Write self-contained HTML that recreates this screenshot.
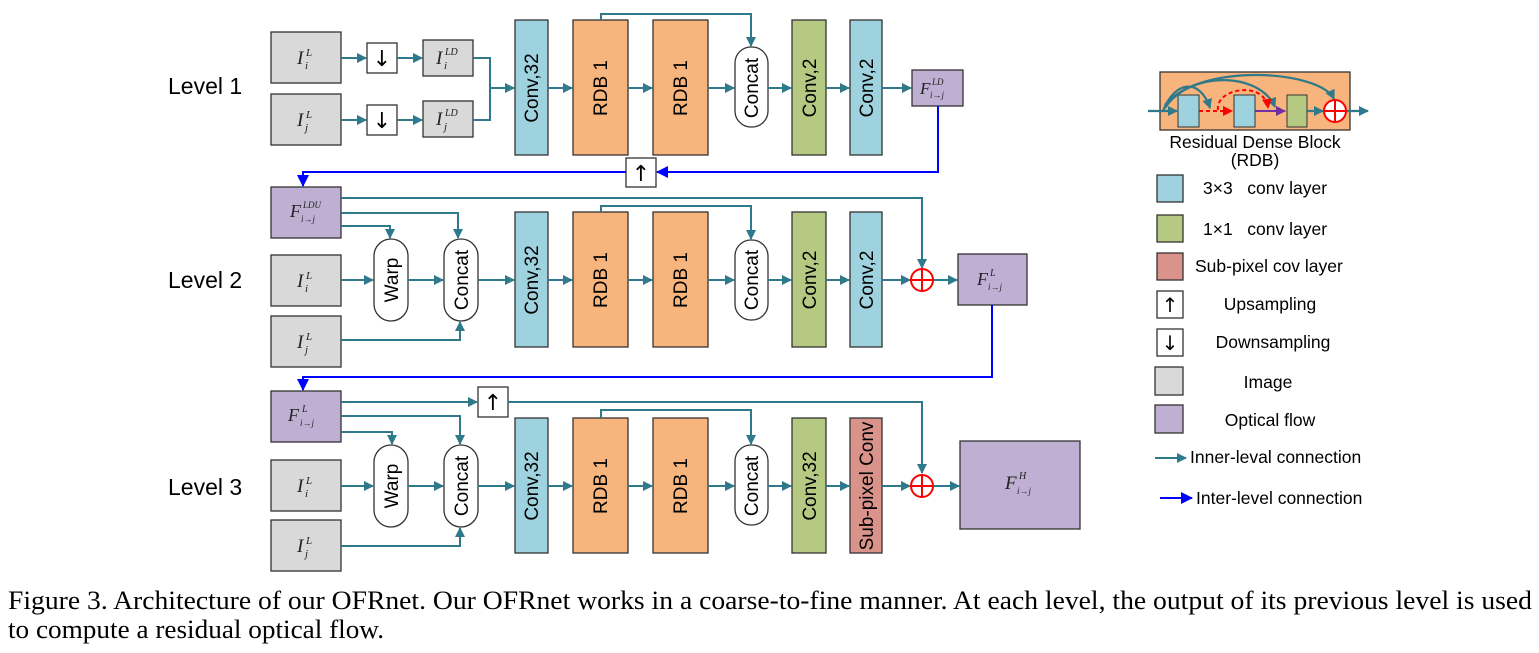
<!DOCTYPE html>
<html><head><meta charset="utf-8"><style>
html,body{margin:0;padding:0;background:#fff;}
svg{display:block;}
.s{font-family:"Liberation Sans",sans-serif;}
.m{font-family:"Liberation Serif",serif;font-style:italic;}
</style></head><body>
<svg width="1539" height="653" viewBox="0 0 1539 653" xmlns="http://www.w3.org/2000/svg">
<defs>
<marker id="t" markerWidth="10" markerHeight="10" refX="9" refY="5" orient="auto" markerUnits="userSpaceOnUse"><path d="M0,0 L10,5 L0,10 z" fill="#2e7a8a"/></marker>
<marker id="b" markerWidth="12" markerHeight="12" refX="11" refY="6" orient="auto" markerUnits="userSpaceOnUse"><path d="M0,0 L12,6 L0,12 z" fill="#0000ff"/></marker>
<marker id="r" markerWidth="10" markerHeight="10" refX="9" refY="5" orient="auto" markerUnits="userSpaceOnUse"><path d="M0,0 L10,5 L0,10 z" fill="#ff0000"/></marker>
<marker id="p" markerWidth="10" markerHeight="10" refX="9" refY="5" orient="auto" markerUnits="userSpaceOnUse"><path d="M0,0 L10,5 L0,10 z" fill="#7030a0"/></marker>
</defs>

<text class="s" x="168" y="94" font-size="23">Level 1</text>
<text class="s" x="168" y="288" font-size="23">Level 2</text>
<text class="s" x="168" y="495" font-size="23">Level 3</text>

<g stroke="#333" stroke-width="1.3">
<rect x="271" y="32" width="70" height="51" fill="#d9d9d9"/>
<rect x="271" y="94" width="70" height="51" fill="#d9d9d9"/>
<rect x="367" y="43" width="30" height="30" fill="#fff"/>
<rect x="367" y="105" width="30" height="30" fill="#fff"/>
<rect x="423" y="40" width="50" height="36" fill="#d9d9d9"/>
<rect x="423" y="101" width="50" height="36" fill="#d9d9d9"/>
<rect x="515" y="20" width="33" height="135" fill="#9dd2de"/>
<rect x="573" y="20" width="55" height="135" fill="#f7b47c"/>
<rect x="653" y="20" width="55" height="135" fill="#f7b47c"/>
<rect x="735" y="47" width="33" height="80" rx="16" fill="#fff"/>
<rect x="792" y="20" width="34" height="135" fill="#b5c982"/>
<rect x="850" y="20" width="32" height="135" fill="#9dd2de"/>
<rect x="912" y="70" width="51" height="36" fill="#bfb0d3"/>
<rect x="626" y="158" width="30" height="29" fill="#fff"/>
<rect x="271" y="187" width="70" height="51" fill="#bfb0d3"/>
<rect x="271" y="255" width="70" height="51" fill="#d9d9d9"/>
<rect x="271" y="316" width="70" height="51" fill="#d9d9d9"/>
<rect x="374" y="239" width="34" height="82" rx="17" fill="#fff"/>
<rect x="444" y="239" width="34" height="82" rx="17" fill="#fff"/>
<rect x="515" y="212" width="33" height="135" fill="#9dd2de"/>
<rect x="573" y="212" width="55" height="135" fill="#f7b47c"/>
<rect x="653" y="212" width="55" height="135" fill="#f7b47c"/>
<rect x="735" y="240" width="33" height="80" rx="16" fill="#fff"/>
<rect x="792" y="212" width="34" height="135" fill="#b5c982"/>
<rect x="850" y="212" width="32" height="135" fill="#9dd2de"/>
<rect x="958" y="254" width="69" height="51" fill="#bfb0d3"/>
<rect x="271" y="391" width="70" height="51" fill="#bfb0d3"/>
<rect x="271" y="460" width="70" height="51" fill="#d9d9d9"/>
<rect x="271" y="520" width="70" height="51" fill="#d9d9d9"/>
<rect x="478" y="387" width="30" height="30" fill="#fff"/>
<rect x="374" y="445" width="34" height="82" rx="17" fill="#fff"/>
<rect x="444" y="445" width="34" height="82" rx="17" fill="#fff"/>
<rect x="515" y="418" width="33" height="135" fill="#9dd2de"/>
<rect x="573" y="418" width="55" height="135" fill="#f7b47c"/>
<rect x="653" y="418" width="55" height="135" fill="#f7b47c"/>
<rect x="735" y="445" width="33" height="80" rx="16" fill="#fff"/>
<rect x="792" y="418" width="34" height="135" fill="#b5c982"/>
<rect x="850" y="418" width="32" height="135" fill="#d9938a"/>
<rect x="960" y="441" width="120" height="88" fill="#bfb0d3"/>
</g>

<g class="s" font-size="19" text-anchor="middle" fill="#000">
<text transform="translate(538,88) rotate(-90)">Conv,32</text>
<text transform="translate(607,88) rotate(-90)">RDB 1</text>
<text transform="translate(687,88) rotate(-90)">RDB 1</text>
<text transform="translate(758,88) rotate(-90)">Concat</text>
<text transform="translate(816,88) rotate(-90)">Conv,2</text>
<text transform="translate(873,88) rotate(-90)">Conv,2</text>
<text transform="translate(398,280) rotate(-90)">Warp</text>
<text transform="translate(468,280) rotate(-90)">Concat</text>
<text transform="translate(538,280) rotate(-90)">Conv,32</text>
<text transform="translate(607,280) rotate(-90)">RDB 1</text>
<text transform="translate(687,280) rotate(-90)">RDB 1</text>
<text transform="translate(758,280) rotate(-90)">Concat</text>
<text transform="translate(816,280) rotate(-90)">Conv,2</text>
<text transform="translate(873,280) rotate(-90)">Conv,2</text>
<text transform="translate(398,486) rotate(-90)">Warp</text>
<text transform="translate(468,486) rotate(-90)">Concat</text>
<text transform="translate(538,486) rotate(-90)">Conv,32</text>
<text transform="translate(607,486) rotate(-90)">RDB 1</text>
<text transform="translate(687,486) rotate(-90)">RDB 1</text>
<text transform="translate(758,486) rotate(-90)">Concat</text>
<text transform="translate(816,486) rotate(-90)">Conv,32</text>
<text transform="translate(873,486) rotate(-90)">Sub-pixel Conv</text>
</g>

<g font-family="DejaVu Sans,sans-serif" font-size="22" text-anchor="middle">
<text x="382" y="66">↓</text><text x="382" y="128">↓</text>
<text x="641" y="181">↑</text><text x="493" y="410">↑</text>
</g>

<g class="m" fill="#222">
<text x="297" y="64" font-size="19">I</text><text x="306" y="56" font-size="11">L</text><text x="305" y="69" font-size="11">i</text>
<text x="297" y="126" font-size="19">I</text><text x="306" y="118" font-size="11">L</text><text x="305" y="131" font-size="11">j</text>
<text x="436" y="64" font-size="19">I</text><text x="445" y="55" font-size="10">LD</text><text x="444" y="69" font-size="11">i</text>
<text x="436" y="125" font-size="19">I</text><text x="445" y="116" font-size="10">LD</text><text x="444" y="130" font-size="11">j</text>
<text x="920" y="94" font-size="17">F</text><text x="932" y="85" font-size="9">LD</text><text x="930" y="98" font-size="9">i→j</text>
<text x="290" y="217" font-size="18">F</text><text x="303" y="208" font-size="9">LDU</text><text x="301" y="222" font-size="9">i→j</text>
<text x="297" y="287" font-size="19">I</text><text x="306" y="279" font-size="11">L</text><text x="305" y="292" font-size="11">i</text>
<text x="297" y="348" font-size="19">I</text><text x="306" y="340" font-size="11">L</text><text x="305" y="353" font-size="11">j</text>
<text x="977" y="285" font-size="18">F</text><text x="990" y="276" font-size="10">L</text><text x="988" y="290" font-size="9">i→j</text>
<text x="288" y="421" font-size="18">F</text><text x="302" y="412" font-size="10">L</text><text x="300" y="426" font-size="9">i→j</text>
<text x="297" y="492" font-size="19">I</text><text x="306" y="484" font-size="11">L</text><text x="305" y="497" font-size="11">i</text>
<text x="297" y="552" font-size="19">I</text><text x="306" y="544" font-size="11">L</text><text x="305" y="557" font-size="11">j</text>
<text x="1005" y="489" font-size="19">F</text><text x="1019" y="479" font-size="10">H</text><text x="1017" y="494" font-size="9">i→j</text>
</g>

<g stroke="#2e7a8a" stroke-width="2" fill="none" marker-end="url(#t)">
<line x1="341" y1="58" x2="366" y2="58"/><line x1="397" y1="58" x2="422" y2="58"/>
<line x1="341" y1="120" x2="366" y2="120"/><line x1="397" y1="120" x2="422" y2="120"/>
<path d="M473,58 H490 V120 H473" marker-end="none"/>
<line x1="490" y1="88" x2="514" y2="88"/>
<line x1="548" y1="88" x2="572" y2="88"/>
<line x1="628" y1="88" x2="652" y2="88"/>
<line x1="708" y1="88" x2="734" y2="88"/>
<line x1="768" y1="88" x2="791" y2="88"/>
<line x1="826" y1="88" x2="849" y2="88"/>
<line x1="882" y1="88" x2="911" y2="88"/>
<path d="M601,20 V14 H751 V46"/>
<path d="M341,198 H922 V268"/>
<path d="M341,213 H458 V238"/>
<path d="M341,226 H390 V238"/>
<line x1="341" y1="280" x2="373" y2="280"/>
<line x1="408" y1="280" x2="443" y2="280"/>
<path d="M341,340 H460 V322"/>
<line x1="478" y1="280" x2="514" y2="280"/>
<line x1="548" y1="280" x2="572" y2="280"/>
<line x1="628" y1="280" x2="652" y2="280"/>
<line x1="708" y1="280" x2="734" y2="280"/>
<line x1="768" y1="280" x2="791" y2="280"/>
<line x1="826" y1="280" x2="849" y2="280"/>
<line x1="882" y1="280" x2="910" y2="280"/>
<line x1="934" y1="280" x2="957" y2="280"/>
<path d="M601,212 V206 H751 V239"/>
<line x1="341" y1="402" x2="477" y2="402"/>
<path d="M508,402 H922 V473"/>
<path d="M341,416 H460 V444"/>
<path d="M341,432 H392 V444"/>
<line x1="341" y1="486" x2="373" y2="486"/>
<line x1="408" y1="486" x2="443" y2="486"/>
<path d="M341,546 H460 V528"/>
<line x1="478" y1="486" x2="514" y2="486"/>
<line x1="548" y1="486" x2="572" y2="486"/>
<line x1="628" y1="486" x2="652" y2="486"/>
<line x1="708" y1="486" x2="734" y2="486"/>
<line x1="768" y1="486" x2="791" y2="486"/>
<line x1="826" y1="486" x2="849" y2="486"/>
<line x1="882" y1="486" x2="910" y2="486"/>
<line x1="934" y1="486" x2="959" y2="486"/>
<path d="M601,418 V410 H751 V444"/>
</g>

<g stroke="#ff0000" stroke-width="2" fill="#fff">
<circle cx="922" cy="280" r="11"/><path d="M911,280 H933 M922,269 V291"/>
<circle cx="922" cy="486" r="11"/><path d="M911,486 H933 M922,475 V497"/>
</g>

<g stroke="#0000ff" stroke-width="2" fill="none">
<path d="M938,106 V172 H657" marker-end="url(#b)"/>
<path d="M626,172 H303 V186" marker-end="url(#b)"/>
<path d="M992,305 V377 H303 V390" marker-end="url(#b)"/>
</g>

<rect x="1160" y="72" width="190" height="58" fill="#f7b47c" stroke="#333" stroke-width="1.3"/>
<rect x="1178" y="95" width="21" height="32" fill="#9dd2de" stroke="#333"/>
<rect x="1234" y="95" width="21" height="32" fill="#9dd2de" stroke="#333"/>
<rect x="1287" y="95" width="20" height="32" fill="#b5c982" stroke="#333"/>
<g stroke="#2e7a8a" stroke-width="2.2" fill="none">
<line x1="1148" y1="111" x2="1177" y2="111" marker-end="url(#t)"/>
<line x1="1307" y1="111" x2="1323" y2="111" marker-end="url(#t)"/>
<line x1="1347" y1="111" x2="1368" y2="111" marker-end="url(#t)"/>
<path d="M1163,111 C1175,80 1200,78 1210,108" marker-end="url(#t)"/>
<path d="M1165,108 C1190,70 1260,72 1275,107" marker-end="url(#t)"/>
<path d="M1165,105 C1200,62 1320,70 1334,99" marker-end="url(#t)"/>
</g>
<path d="M1199,111 H1232" stroke="#ff0000" stroke-width="2" stroke-dasharray="4,3" fill="none" marker-end="url(#r)"/>
<path d="M1218,110 C1215,88 1265,80 1268,108" stroke="#ff0000" stroke-width="2" stroke-dasharray="4,3" fill="none" marker-end="url(#r)"/>
<line x1="1255" y1="111" x2="1285" y2="111" stroke="#7030a0" stroke-width="2" marker-end="url(#p)"/>
<circle cx="1335" cy="111" r="11" fill="#fff" stroke="#ff0000" stroke-width="2"/>
<path d="M1324,111 H1346 M1335,100 V122" stroke="#ff0000" stroke-width="2"/>
<g class="s" font-size="17.5" fill="#000">
<text x="1255" y="148" text-anchor="middle">Residual Dense Block</text>
<text x="1255" y="166" text-anchor="middle">(RDB)</text>
<text x="1203" y="194" xml:space="preserve">3×3   conv layer</text>
<text x="1203" y="235" xml:space="preserve">1×1   conv layer</text>
<text x="1195" y="272">Sub-pixel cov layer</text>
<text x="1270" y="310" text-anchor="middle">Upsampling</text>
<text x="1273" y="348" text-anchor="middle">Downsampling</text>
<text x="1268" y="388" text-anchor="middle">Image</text>
<text x="1270" y="426" text-anchor="middle">Optical flow</text>
<text x="1190" y="463">Inner-leval connection</text>
<text x="1196" y="504">Inter-level connection</text>
</g>
<g stroke="#333" stroke-width="1.3">
<rect x="1157" y="175" width="26" height="27" fill="#9dd2de"/>
<rect x="1157" y="215" width="26" height="27" fill="#b5c982"/>
<rect x="1157" y="253" width="26" height="27" fill="#d9938a"/>
<rect x="1157" y="291" width="26" height="27" fill="#fff"/>
<rect x="1157" y="329" width="26" height="27" fill="#fff"/>
<rect x="1155" y="367" width="28" height="28" fill="#d9d9d9"/>
<rect x="1155" y="405" width="28" height="28" fill="#bfb0d3"/>
</g>
<g font-family="DejaVu Sans,sans-serif" font-size="20" text-anchor="middle">
<text x="1170" y="312">↑</text><text x="1170" y="350">↓</text>
</g>
<line x1="1155" y1="458" x2="1186" y2="458" stroke="#2e7a8a" stroke-width="2" marker-end="url(#t)"/>
<line x1="1160" y1="498" x2="1192" y2="498" stroke="#0000ff" stroke-width="2" marker-end="url(#b)"/>

<g font-family="Liberation Serif,serif" font-size="26.5" fill="#000">
<text x="8" y="609" textLength="1524" lengthAdjust="spacingAndGlyphs">Figure 3. Architecture of our OFRnet. Our OFRnet works in a coarse-to-fine manner. At each level, the output of its previous level is used</text>
<text x="8" y="638" textLength="376" lengthAdjust="spacingAndGlyphs">to compute a residual optical flow.</text>
</g>
</svg>
</body></html>
